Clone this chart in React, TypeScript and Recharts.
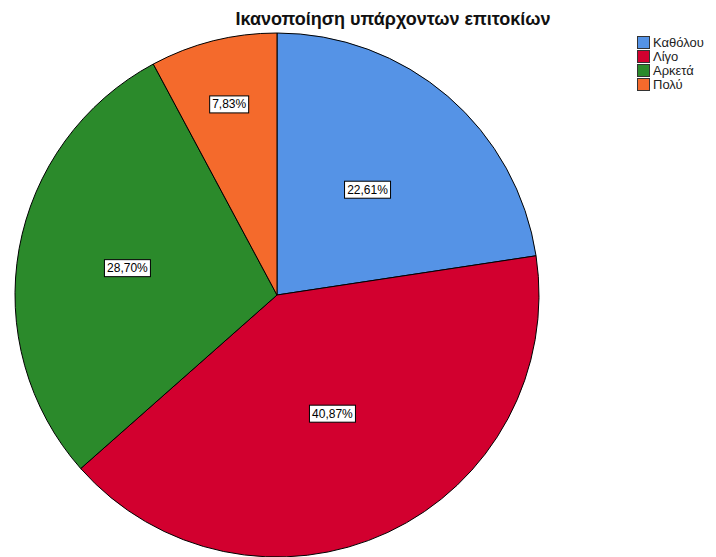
import { PieChart, Pie, Cell, Legend } from "recharts"

const categories = ["Καθόλου", "Λίγο", "Αρκετά", "Πολύ"]
const counts = [26, 47, 33, 9]
const colors = ["#5593e6", "#d2002f", "#2b8a2b", "#f46a2c"]
// radial position of each label box, as a fraction of the radius
const labelRadius = [0.53, 0.5, 0.58, 0.75]

const data = categories.map((name, i) => ({ name, value: counts[i] }))
const RADIAN = Math.PI / 180

const renderLabel = (props: any) => {
  const { cx, cy, midAngle, outerRadius, percent, index } = props
  const r = outerRadius * labelRadius[index]
  const x = cx + r * Math.cos(-midAngle * RADIAN)
  const y = cy + r * Math.sin(-midAngle * RADIAN)
  const text = (percent * 100).toFixed(2).replace(".", ",") + "%"
  const w = text.length * 7 + 4
  return (
    <g>
      <rect x={x - w / 2} y={y - 8.5} width={w} height={17} fill="#fff" stroke="#000" strokeWidth={1} />
      <text x={x} y={y + 4} textAnchor="middle" fontSize={12} fontFamily="Liberation Sans, Arial" fill="#000">
        {text}
      </text>
    </g>
  )
}

const renderLegend = () => (
  <div style={{ fontFamily: "Liberation Sans, Arial", fontSize: 13, color: "#222" }}>
    {categories.map((c, i) => (
      <div key={c} style={{ display: "flex", alignItems: "center", height: 14 }}>
        <span
          style={{
            width: 11,
            height: 11,
            background: colors[i],
            border: "1px solid #333",
            marginRight: 3,
            display: "inline-block",
          }}
        />
        {c}
      </div>
    ))}
  </div>
)

export default function App() {
  return (
    <div style={{ position: "absolute", left: 0, top: 0, width: 716, height: 557, background: "#fff" }}>
      <div
        style={{
          position: "absolute",
          top: 9,
          left: 193,
          width: 400,
          textAlign: "center",
          fontFamily: "Liberation Sans, Arial",
          fontWeight: "bold",
          fontSize: 18,
          color: "#111",
        }}
      >
        Ικανοποίηση υπάρχοντων επιτοκίων
      </div>
      <PieChart width={716} height={557} margin={{ top: 0, right: 0, bottom: 0, left: 0 }}>
        <Pie
          data={data}
          dataKey="value"
          nameKey="name"
          cx={277}
          cy={295}
          outerRadius={262}
          startAngle={90}
          endAngle={-270}
          stroke="#000"
          strokeWidth={1}
          label={renderLabel}
          labelLine={false}
          isAnimationActive={false}
        >
          {data.map((d, i) => (
            <Cell key={d.name} fill={colors[i]} />
          ))}
        </Pie>
        <Legend
          content={renderLegend}
          wrapperStyle={{ position: "absolute", left: 637, top: 35, width: 80 }}
        />
      </PieChart>
    </div>
  )
}
